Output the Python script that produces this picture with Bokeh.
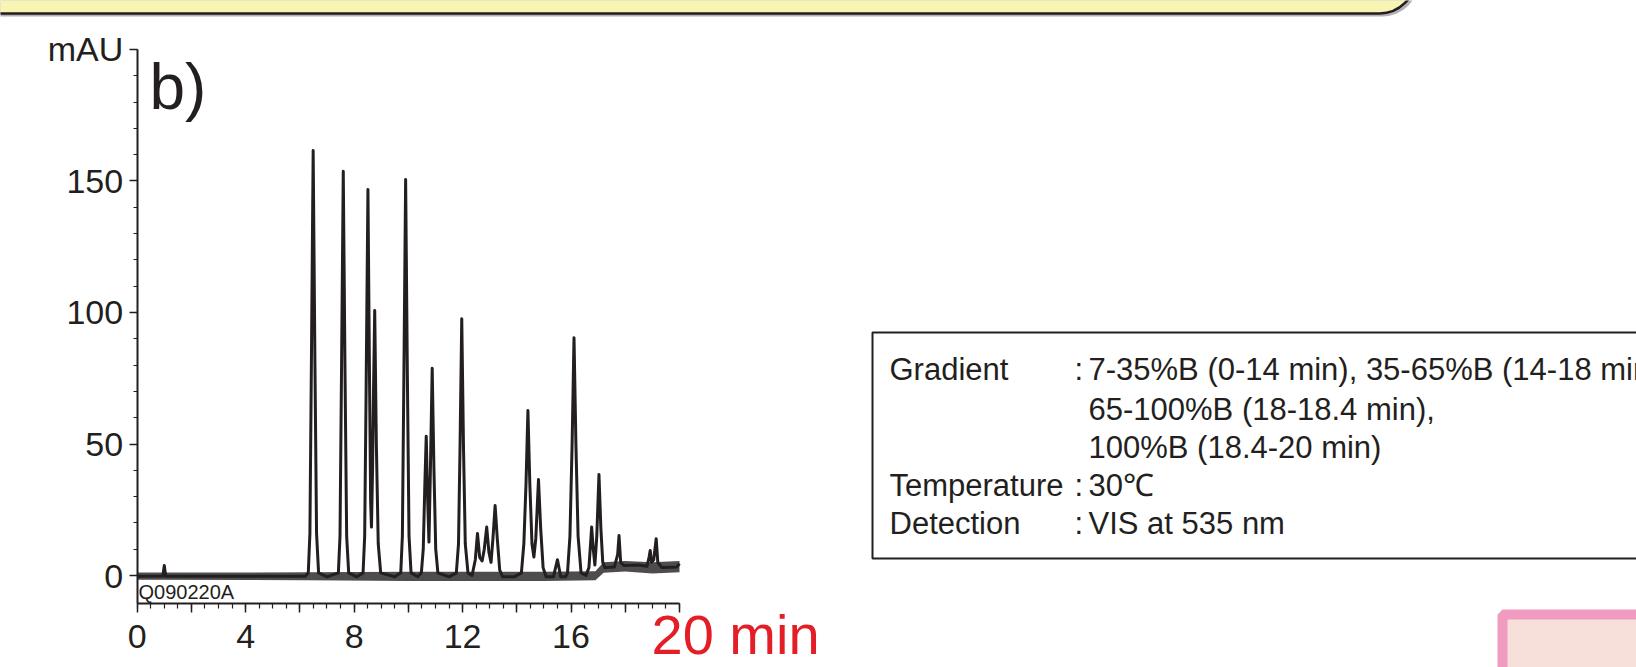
from bokeh.plotting import figure
from bokeh.models import (Range1d, LinearAxis, FixedTicker, BoxAnnotation, Label)
from bokeh.embed import file_html
from bokeh.resources import INLINE

# ---------------- data ----------------
time_min = [0.0, 0.95, 1.0, 1.05, 6.2,
            6.31, 6.37, 6.425, 6.49, 6.555, 6.615, 6.69, 7.0,
            7.42, 7.48, 7.535, 7.60, 7.665, 7.725, 7.80, 8.1,
            8.33, 8.39, 8.445, 8.51, 8.57, 8.61, 8.64, 8.68, 8.715, 8.76, 8.82, 8.89, 8.98, 9.5,
            9.72, 9.78, 9.835, 9.90, 9.965, 10.025, 10.10, 10.35,
            10.48, 10.55, 10.61, 10.66, 10.715, 10.76, 10.81, 10.88, 10.945, 11.01, 11.09, 11.5,
            11.77, 11.85, 11.905, 11.97, 12.035, 12.10, 12.20,
            12.35, 12.47, 12.55, 12.63, 12.72, 12.80, 12.89, 12.97, 13.05, 13.12, 13.20, 13.28, 13.37, 13.48, 13.9,
            14.17, 14.26, 14.34, 14.41, 14.48, 14.56, 14.63, 14.70, 14.80, 14.88, 14.97, 15.08,
            15.35, 15.50, 15.62, 15.80,
            15.87, 15.96, 16.04, 16.11, 16.18, 16.26, 16.37, 16.55,
            16.66, 16.72, 16.76, 16.82, 16.88, 16.95, 17.03, 17.10, 17.17, 17.25,
            17.6, 17.72, 17.77, 17.83, 17.95,
            18.5, 18.80, 18.88, 18.92, 18.97, 19.05, 19.14, 19.20, 19.35, 19.9, 20.0]
signal_mau = [-0.3, -0.2, 3.8, -0.3, -0.3,
              1, 16, 81, 161.6, 81, 16, 1, -0.5,
              1, 15, 77, 153.7, 77, 15, 1, -0.5,
              1, 15, 73, 146.8, 73, 28, 18.4, 40, 70, 100.8, 50, 12, 1, -0.5,
              1, 15, 75, 150.6, 75, 15, 1, -0.5,
              1, 10, 35, 52.9, 28, 12.7, 38, 78.8, 40, 10, 1, -0.5,
              1, 12, 48, 97.6, 48, 12, 1,
              0, 6, 16, 7, 5.5, 10, 18.4, 9, 5, 14, 26.6, 14, 2, -0.5, -0.5,
              1, 12, 35, 62.7, 35, 12, 7, 14, 36.5, 18, 3, -0.5,
              -0.5, 6.0, -0.5, -0.5,
              1, 15, 50, 90.4, 50, 15, 1, 0,
              3, 12, 18.4, 10, 4, 15, 38.4, 18, 5, 3,
              3.2, 8, 15.2, 5, 3.8,
              4.0, 3.5, 7, 9.5, 5, 6, 14, 5, 3.0, 3.2, 4.5]

# baseline noise envelope
noise_t = [0.0, 6.3, 10.0, 15.0, 16.9, 17.2, 18.0, 19.0, 20.0]
noise_lo = [-1.6, -1.8, -2.1, -2.1, -1.8, 1.0, 1.5, 0.8, 1.2]
noise_hi = [1.1, 1.2, 1.4, 1.4, 1.6, 5.0, 5.5, 5.0, 5.5]

x_ticks = [0, 2, 4, 6, 8, 10, 12, 14, 16, 18, 20]
x_minor = [i * 0.5 for i in range(41)]
x_labels = {2: "", 6: "", 10: "", 14: "", 18: "", 20: ""}
y_ticks = [0, 50, 100, 150, 200]
y_minor = list(range(0, 201, 10))
y_labels = {200: "mAU"}

info_keys = ["Gradient", "", "", "Temperature", "Detection"]
info_colon = [":", "", "", ":", ":"]
info_vals = ["7-35%B (0-14 min), 35-65%B (14-18 min),",
             "65-100%B (18-18.4 min),",
             "100%B (18.4-20 min)",
             "30\u2103",
             "VIS at 535 nm"]

# ---------------- figure ----------------
W, H = 1636, 667
INK = "#231F20"
FONT = "Liberation Sans"

p = figure(width=W, height=H, output_backend="svg", toolbar_location=None,
           x_range=Range1d(-5.041, 55.294), y_range=Range1d(-34.98, 218.63),
           x_axis_type=None, y_axis_type=None, min_border=0,
           outline_line_color=None, background_fill_color="white")
p.grid.visible = False
p.extra_x_ranges = {"px": Range1d(0, W)}
p.extra_y_ranges = {"py": Range1d(0, H)}   # y up, py = H - image_y

def py(yimg):
    return H - yimg

def box(l, r, t, b, fill, line=None, lw=0, radius=0):
    p.add_layout(BoxAnnotation(left=l, right=r, top=py(t), bottom=py(b),
                               x_range_name="px", y_range_name="py",
                               fill_color=fill, fill_alpha=1.0,
                               line_color=line, line_alpha=1.0, line_width=lw,
                               border_radius=radius, level="underlay"))

# decorations: top yellow banner (with shadow), info box, pink box
box(-40, 1418, -80, 16, "#B3B1B1", radius=36)
box(-40, 1415, -80, 13, "#F8F4B4", INK, 2.5, 36)
box(872, 1720, 332, 558, "white", INK, 2)
box(1502, 1720, 614, 760, "#F7E0DA", "#F29BC1", 10)

# chromatogram
p.varea(x=noise_t, y1=noise_lo, y2=noise_hi, fill_color=INK, fill_alpha=0.8)
p.line(time_min, signal_mau, line_color=INK, line_width=3, line_join="round")

# axes
xa = LinearAxis(fixed_location=-10.65, bounds=(0, 20),
                ticker=FixedTicker(ticks=x_ticks, minor_ticks=x_minor),
                major_label_overrides=x_labels)
ya = LinearAxis(fixed_location=0, bounds=(-10.65, 200),
                ticker=FixedTicker(ticks=y_ticks, minor_ticks=y_minor),
                major_label_overrides=y_labels)
for ax in (xa, ya):
    ax.axis_line_color = INK
    ax.axis_line_width = 2
    ax.major_tick_line_color = INK
    ax.minor_tick_line_color = INK
    ax.major_tick_line_width = 1.5
    ax.minor_tick_line_width = 1.2
    ax.major_tick_in = 0
    ax.minor_tick_in = 0
    ax.major_label_text_color = INK
    ax.major_label_text_font = FONT
    ax.major_label_text_font_size = "34px"
xa.major_tick_out = 9
xa.minor_tick_out = 5
xa.major_label_standoff = 12
ya.major_tick_out = 8
ya.minor_tick_out = 4
ya.major_label_standoff = 6
p.add_layout(xa, "below")
p.add_layout(ya, "left")

# texts
def lab(text, x, y, size, color=INK):
    p.add_layout(Label(x=x, y=py(y), text=text, x_range_name="px", y_range_name="py",
                       text_font=FONT, text_font_size=size, text_color=color,
                       text_align="left", text_baseline="middle"))

lab("b)", 149, 86, "64px")
lab("Q090220A", 138, 591, "20px")
lab("20 min", 651, 634, "56px", color="#E31E26")

line_y = [369, 408.5, 447, 485, 523]
for k, c, v, yy in zip(info_keys, info_colon, info_vals, line_y):
    if k:
        lab(k, 889, yy, "31px")
    if c:
        lab(c, 1074, yy, "31px")
    lab(v, 1088, yy, "31px")

open("out.html", "w").write(file_html(p, INLINE))
